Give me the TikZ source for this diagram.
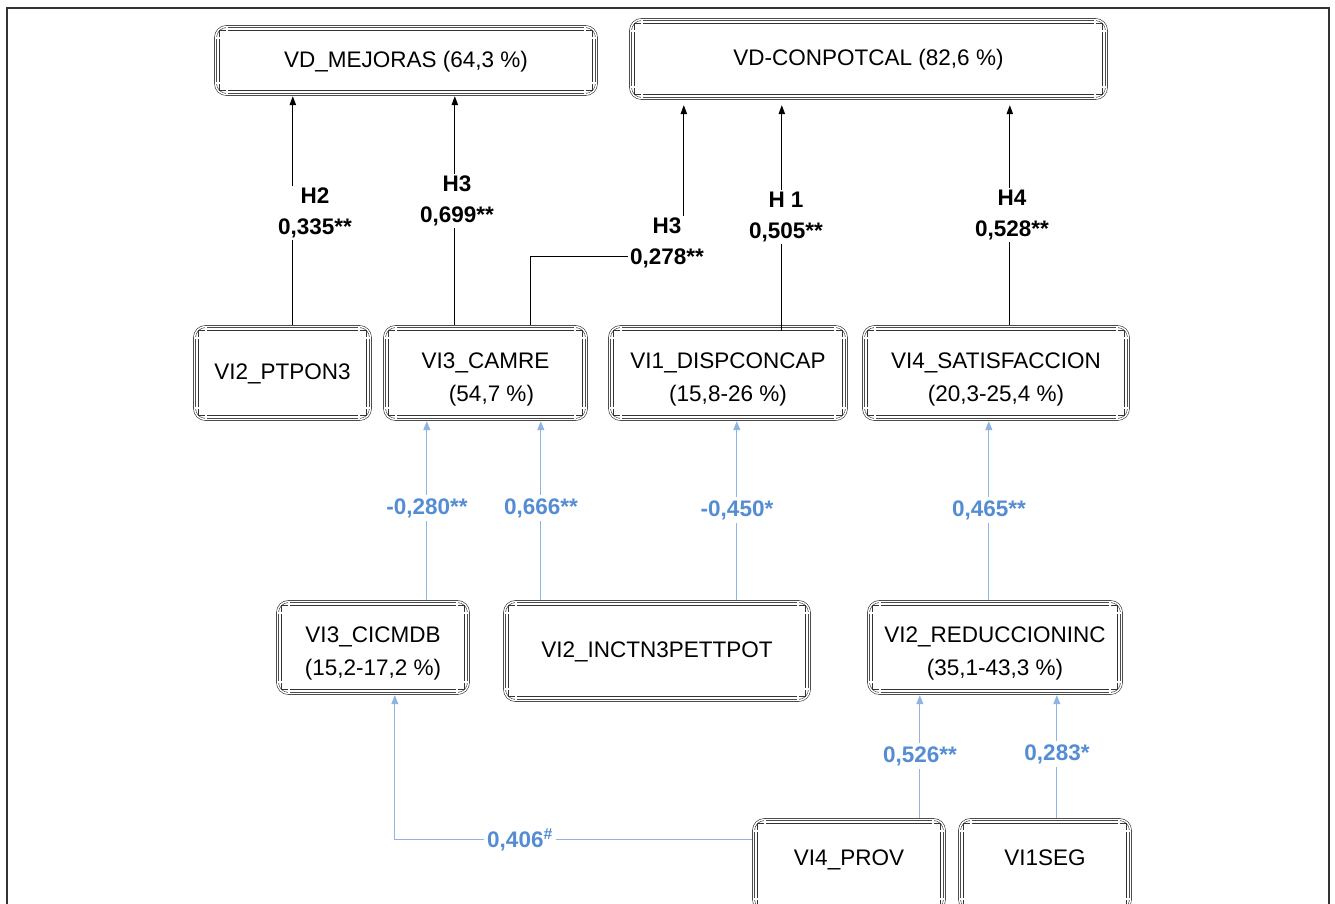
\documentclass[tikz,border=0pt]{standalone}
\usepackage{fontspec}
\setmainfont{Liberation Sans}
\usetikzlibrary{arrows.meta}
\definecolor{lineblue}{RGB}{141,180,226}
\definecolor{labblue}{RGB}{84,141,212}
\tikzset{
  frameline/.style={draw=black!80, line width=0.6pt},
  dbl/.style={draw=black!80, line width=0.6pt, double=white, double distance=1.4pt},
  boxtext/.style={inner sep=0pt, align=center, font=\fontsize{22.5}{33}\selectfont},
  blk/.style={draw=black, line width=0.9pt, -{Triangle[length=9pt,width=6.5pt]}},
  blu/.style={draw=lineblue, line width=1pt, -{Triangle[length=9pt,width=7pt]}},
  hlab/.style={font=\fontsize{22.5}{31}\selectfont\bfseries, fill=white, inner sep=2pt, align=center},
  blab/.style={font=\fontsize{22.5}{27}\selectfont\bfseries, text=labblue, fill=white, inner sep=3pt}
}
\newcommand\mydframe[4]{%
  \draw[dbl, rounded corners=11pt] (#1+1.5,#2+1.5) rectangle (#3-1.5,#4-1.5);
  \draw[frameline] (#1+5.5,#2+5.5) rectangle (#3-5.5,#4-5.5);
  \draw[dbl] (#1+13,#2+1.5) -- (#1+13,#2+13) -- (#1+1.5,#2+13);
  \draw[dbl] (#3-13,#2+1.5) -- (#3-13,#2+13) -- (#3-1.5,#2+13);
  \draw[dbl] (#1+13,#4-1.5) -- (#1+13,#4-13) -- (#1+1.5,#4-13);
  \draw[dbl] (#3-13,#4-1.5) -- (#3-13,#4-13) -- (#3-1.5,#4-13);
}
\newcommand\mybox[7][0]{%
  \pgfmathsetmacro\mybw{#5-#3}\pgfmathsetmacro\mybh{#6-#4}%
  \pgfmathsetmacro\mycx{(#3+#5)/2}\pgfmathsetmacro\mycy{(#4+#6)/2}%
  \node[boxtext, minimum width=\mybw pt, minimum height=\mybh pt] (#2) at (\mycx,\mycy) {\raisebox{#1pt}[\height][\depth]{\begin{tabular}{@{}c@{}}#7\end{tabular}}};
  \mydframe{#3}{#4}{#5}{#6}
}
\begin{document}
\begin{tikzpicture}[x=1pt,y=-1pt]
\useasboundingbox (0,0) rectangle (1335,903);
\clip (0,0) rectangle (1335,903);
\fill[white] (0,0) rectangle (1335,903);
\draw[line width=2pt, draw=black!80] (7,915) -- (7,8) -- (1329,8) -- (1329,915);

\mybox{MEJ}{214}{25}{598}{96}{VD\_MEJORAS (64,3 \%)}
\mybox{CON}{629}{18}{1108}{100}{VD-CONPOTCAL (82,6 \%)}
\mybox{PTP}{193}{325}{372}{421}{VI2\_PTPON3}
\mybox[-5]{CAM}{383}{325}{588}{421}{VI3\_CAMRE\\\hspace*{12pt}(54,7 \%)}
\mybox[-5]{DSP}{608}{325}{848}{421}{VI1\_DISPCONCAP\\(15,8-26 \%)}
\mybox[-5]{SAT}{862}{325}{1130}{421}{VI4\_SATISFACCION\\(20,3-25,4 \%)}
\mybox[-5]{CIC}{276}{600}{470}{695}{VI3\_CICMDB\\(15,2-17,2 \%)}
\mybox{INC}{503}{600}{811}{702}{VI2\_INCTN3PETTPOT}
\mybox[-5]{RED}{867}{600}{1123}{695}{VI2\_REDUCCIONINC\\(35,1-43,3 \%)}
\mybox[6]{PRV}{752}{818}{946}{912}{VI4\_PROV}
\mybox[6]{SEG}{958}{818}{1132}{912}{VI1SEG}

% black hypotheses
\draw[blk] ([xshift=100pt]PTP.north west) -- ([xshift=79pt]MEJ.south west);
\draw[blk] ([xshift=72pt]CAM.north west) -- ([xshift=241pt]MEJ.south west);
\draw[blk, shorten >=5pt] ([xshift=148pt]CAM.north west) |- ([xshift=55pt,yshift=-156pt]CON.south west) -- ([xshift=55pt]CON.south west);
\draw[blk, shorten >=5pt] ([xshift=174pt,yshift=-6pt]DSP.north west) -- ([xshift=153pt]CON.south west);
\draw[blk, shorten >=5pt] ([xshift=148pt]SAT.north west) -- ([xshift=381pt]CON.south west);

\node[hlab] (lh2) at (315,213) {H2\\0,335**};
\node[hlab] (lh3a) at (457,201) {H3\\0,699**};
\node[hlab] (lh3b) at (667,243) {H3\\0,278**};
\node[hlab] (lh1) at (786,217) {H 1\\0,505**};
\node[hlab] (lh4) at (1012,215) {H4\\0,528**};

% blue paths
\draw[blu] ([xshift=151pt]CIC.north west) -- ([xshift=44pt]CAM.south west);
\draw[blu] ([xshift=38pt]INC.north west) -- ([xshift=158pt]CAM.south west);
\draw[blu] ([xshift=234pt]INC.north west) -- ([xshift=129pt]DSP.south west);
\draw[blu] ([xshift=122pt]RED.north west) -- ([xshift=127pt]SAT.south west);
\draw[blu] ([xshift=168pt]PRV.north west) -- ([xshift=53pt]RED.south west);
\draw[blu] ([xshift=99pt]SEG.north west) -- ([xshift=190pt]RED.south west);
\draw[blu] ([yshift=-22pt]PRV.north west) -| ([xshift=119pt]CIC.south west);

\node[blab] (b1) at (427,508) {-0,280**};
\node[blab] (b2) at (541,508) {0,666**};
\node[blab] (b3) at (737,510) {-0,450*};
\node[blab] (b4) at (989,510) {0,465**};
\node[blab] (b5) at (920,756) {0,526**};
\node[blab] (b6) at (1057,754) {0,283*};
\node[blab] (b7) at (520,840) {0,406\textsuperscript{\#}};
\end{tikzpicture}
\end{document}
